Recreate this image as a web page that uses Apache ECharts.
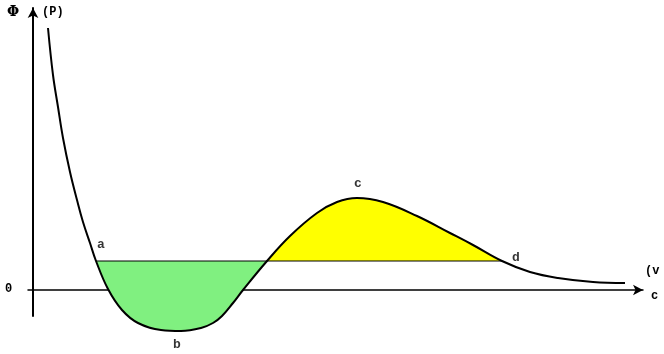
<!DOCTYPE html>
<html style="height: 100%">
  <head>
     <meta charset="utf-8">
  </head>
  <body style="height: 100%; margin: 0; background: #fff">
     <div id="container" style="width: 664px; height: 354px"></div>
     <script type="text/javascript" src="https://cdn.jsdelivr.net/npm/echarts@6/dist/echarts.min.js"></script>
     <script type="text/javascript">
// curve (v, phi)
var curveX = [15, 20, 25, 30, 37, 44, 50, 57, 63, 75, 89, 105, 128, 148, 168, 180, 189, 200, 210, 234, 257, 284, 304, 324, 350, 384, 417, 440, 469, 497, 525, 560, 592];
var curveY = [262, 215, 183, 152, 118, 90, 68, 47, 29, 1, -20, -33, -40, -41, -38, -33, -26, -13, 0, 29, 54, 77, 88, 92, 88, 74, 57, 45, 29, 18, 12, 8, 7];
// horizontal level a-d
var levelY = 29;
var levelX = [63, 469];
// split points of the two shaded parts
var greenFrom = 63, greenTo = 234, yellowTo = 469;
// point names
var pointNames = ['a', 'b', 'c', 'd'];
var pointX = [68, 144, 325, 483];
var pointY = [45, -55, 106, 32];

var dom = document.getElementById("container");
var myChart = echarts.init(dom);

function pick(from, to) {
  var out = [];
  for (var i = 0; i < curveX.length; i++) {
    if (curveX[i] >= from && curveX[i] <= to) out.push([curveX[i], curveY[i]]);
  }
  return out;
}
var curve = curveX.map(function (x, i) { return [x, curveY[i]]; });
var labelData = pointNames.map(function (n, i) { return { name: n, value: [pointX[i], pointY[i]] }; });

var font = 'Liberation Mono';
var option = {
  animation: false,
  grid: { left: 28, right: 21, top: 8, bottom: 38 },
  xAxis: {
    type: 'value', min: -5, max: 610,
    axisLine: { onZero: true, symbol: ['none', 'arrow'], symbolSize: [8, 10], lineStyle: { color: '#000', width: 1.5 } },
    axisTick: { show: false }, axisLabel: { show: false }, splitLine: { show: false }
  },
  yAxis: {
    type: 'value', min: -26, max: 282,
    axisLine: { onZero: true, symbol: ['none', 'arrow'], symbolSize: [8, 10], lineStyle: { color: '#000', width: 2 } },
    axisTick: { show: false }, axisLabel: { show: false }, splitLine: { show: false }
  },
  graphic: [
    { type: 'text', left: 7, top: 5, style: { text: 'Φ', font: 'bold 14px "DejaVu Serif"', fill: '#000' } },
    { type: 'text', left: 42, top: 6, style: { text: '(P)', font: 'bold 12px "' + font + '"', fill: '#000' } },
    { type: 'text', left: 5, top: 283, style: { text: '0', font: 'bold 12px "' + font + '"', fill: '#000' } },
    { type: 'text', left: 645, top: 265, style: { text: '(v', font: 'bold 12px "' + font + '"', fill: '#000' } },
    { type: 'text', left: 651, top: 290, style: { text: 'c', font: 'bold 12px "' + font + '"', fill: '#000' } }
  ],
  series: [
    {
      type: 'line', data: pick(greenFrom, greenTo), smooth: 0.4, symbol: 'none', clip: false,
      lineStyle: { width: 0 },
      areaStyle: { origin: levelY, color: '#80f080', opacity: 1 }
    },
    {
      type: 'line', data: pick(greenTo, yellowTo), smooth: 0.4, symbol: 'none', clip: false,
      lineStyle: { width: 0 },
      areaStyle: { origin: levelY, color: '#ffff00', opacity: 1 }
    },
    {
      type: 'line', data: levelX.map(function (x) { return [x, levelY]; }), symbol: 'none',
      lineStyle: { color: '#000', width: 1 }
    },
    {
      type: 'line', data: curve, smooth: 0.4, symbol: 'none', clip: false,
      lineStyle: { color: '#000', width: 2 }
    },
    {
      type: 'scatter', data: labelData, symbolSize: 0, clip: false,
      label: {
        show: true, position: 'inside', formatter: '{b}',
        fontFamily: font, fontWeight: 'bold', fontSize: 13, color: '#000'
      }
    }
  ]
};
myChart.setOption(option, true);
     </script>
  </body>
</html>
